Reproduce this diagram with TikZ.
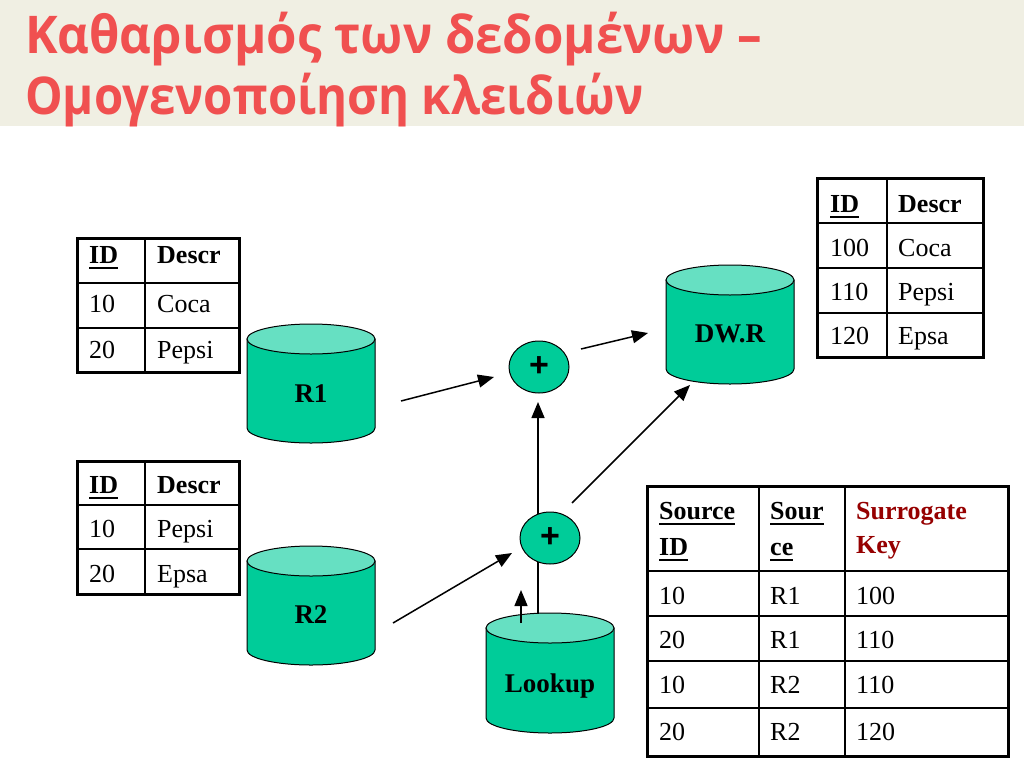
\documentclass[tikz,border=0pt]{standalone}
\usepackage{fontspec}
\setmainfont{Liberation Serif}
\newfontfamily\titlefont{Open Sans}
\newfontfamily\plusfont{Liberation Sans}
\usetikzlibrary{arrows.meta,shapes.geometric}
\definecolor{band}{RGB}{240,239,227}
\definecolor{titlered}{RGB}{240,80,80}
\definecolor{cylbody}{RGB}{0,204,153}
\definecolor{cyltop}{RGB}{102,224,194}
\definecolor{keyred}{RGB}{150,0,0}
\begin{document}
\begin{tikzpicture}[x=1pt,y=1pt,
  cell/.style={anchor=base west,inner sep=0pt,font=\fontsize{26}{30}\selectfont},
  hcell/.style={cell,font=\fontsize{26}{30}\selectfont\bfseries},
  keycell/.style={hcell,text=keyred},
  ulline/.style={line width=2pt},
  outer/.style={line width=3pt},
  inner/.style={line width=1.4pt},
  cylline/.style={draw=black,line width=1pt},
  cyllabel/.style={anchor=base,inner sep=0pt,font=\fontsize{27}{30}\selectfont\bfseries},
  plus/.style={ellipse,draw=black,line width=1pt,fill=cylbody,minimum width=60pt,minimum height=52pt,inner sep=0pt,font=\plusfont\bfseries\fontsize{34}{34}\selectfont},
  conn/.style={line width=1.5pt,-{Triangle[length=16pt,width=13pt]}},
  titletext/.style={anchor=base west,inner sep=0pt,text=titlered,font=\titlefont\bfseries\fontsize{52}{60}\selectfont}
]
\useasboundingbox (0,0) rectangle (1024,-768);
\fill[white] (0,0) rectangle (1024,-768);
\fill[band] (0,0) rectangle (1024,-126);
\node[titletext] (title1) at (25,-54) {\scalebox{0.945}[1]{Καθαρισμός των δεδομένων –}};
\node[titletext] (title2) at (25,-114) {\scalebox{0.91}[1]{Ομογενοποίηση κλειδιών}};

% Table 1
\draw[inner] (145,-238) -- (145,-372) (77,-283) -- (239,-283) (77,-328) -- (239,-328);
\draw[outer] (77,-238) rectangle (239,-372);
\node[hcell] (t1h1) at (89,-263) {ID};
\node[hcell] (t1h2) at (157,-263) {Descr};
\node[cell] (t1a1) at (89,-312) {10};
\node[cell] (t1a2) at (157,-312) {Coca};
\node[cell] (t1b1) at (89,-358) {20};
\node[cell] (t1b2) at (157,-358) {Pepsi};
\draw[ulline] ([yshift=-5pt]t1h1.base west) -- ([yshift=-5pt]t1h1.base east);

% Table 2
\draw[inner] (145,-461) -- (145,-594) (77,-505) -- (239,-505) (77,-549) -- (239,-549);
\draw[outer] (77,-461) rectangle (239,-594);
\node[hcell] (t2h1) at (89,-493) {ID};
\node[hcell] (t2h2) at (157,-493) {Descr};
\node[cell] (t2a1) at (89,-537) {10};
\node[cell] (t2a2) at (157,-537) {Pepsi};
\node[cell] (t2b1) at (89,-582) {20};
\node[cell] (t2b2) at (157,-582) {Epsa};
\draw[ulline] ([yshift=-5pt]t2h1.base west) -- ([yshift=-5pt]t2h1.base east);

% Table 3
\draw[inner] (887,-178) -- (887,-357) (817,-223) -- (983,-223) (817,-268) -- (983,-268) (817,-313) -- (983,-313);
\draw[outer] (817,-178) rectangle (983,-357);
\node[hcell] (t3h1) at (830,-212) {ID};
\node[hcell] (t3h2) at (898,-212) {Descr};
\node[cell] (t3a1) at (830,-256) {100};
\node[cell] (t3a2) at (898,-256) {Coca};
\node[cell] (t3b1) at (830,-300) {110};
\node[cell] (t3b2) at (898,-300) {Pepsi};
\node[cell] (t3c1) at (830,-344) {120};
\node[cell] (t3c2) at (898,-344) {Epsa};
\draw[ulline] ([yshift=-5pt]t3h1.base west) -- ([yshift=-5pt]t3h1.base east);

% Table 4
\draw[inner] (759,-486) -- (759,-756) (845,-486) -- (845,-756)
  (647,-571) -- (1008,-571) (647,-616) -- (1008,-616) (647,-661) -- (1008,-661) (647,-708) -- (1008,-708);
\draw[outer] (647,-486) rectangle (1008,-756);
\node[hcell] (t4h1a) at (659,-519) {Source};
\node[hcell] (t4h1b) at (659,-555) {ID};
\node[hcell] (t4h2a) at (770,-519) {Sour};
\node[hcell] (t4h2b) at (770,-555) {ce};
\node[keycell] (t4h3a) at (856,-519) {Surrogate};
\node[keycell] (t4h3b) at (856,-553) {Key};
\draw[ulline] ([yshift=-5pt]t4h1a.base west) -- ([yshift=-5pt]t4h1a.base east);
\draw[ulline] ([yshift=-5pt]t4h1b.base west) -- ([yshift=-5pt]t4h1b.base east);
\draw[ulline] ([yshift=-5pt]t4h2a.base west) -- ([yshift=-5pt]t4h2a.base east);
\draw[ulline] ([yshift=-5pt]t4h2b.base west) -- ([yshift=-5pt]t4h2b.base east);
\node[cell] (t4a1) at (659,-604) {10};
\node[cell] (t4a2) at (770,-604) {R1};
\node[cell] (t4a3) at (856,-604) {100};
\node[cell] (t4b1) at (659,-648) {20};
\node[cell] (t4b2) at (770,-648) {R1};
\node[cell] (t4b3) at (856,-648) {110};
\node[cell] (t4c1) at (659,-693) {10};
\node[cell] (t4c2) at (770,-693) {R2};
\node[cell] (t4c3) at (856,-693) {110};
\node[cell] (t4d1) at (659,-740) {20};
\node[cell] (t4d2) at (770,-740) {R2};
\node[cell] (t4d3) at (856,-740) {120};

% Cylinders
\path[cylline,fill=cylbody] (247,-339) -- (247,-428) arc[start angle=180,end angle=360,x radius=64,y radius=15] -- (375,-339) -- cycle;
\path[cylline,fill=cyltop] (311,-339) ellipse[x radius=64,y radius=15];
\node[cyllabel] (r1) at (311,-402) {R1};

\path[cylline,fill=cylbody] (247,-561) -- (247,-650) arc[start angle=180,end angle=360,x radius=64,y radius=15] -- (375,-561) -- cycle;
\path[cylline,fill=cyltop] (311,-561) ellipse[x radius=64,y radius=15];
\node[cyllabel] (r2) at (311,-623) {R2};

\path[cylline,fill=cylbody] (666,-280) -- (666,-369) arc[start angle=180,end angle=360,x radius=64,y radius=15] -- (794,-280) -- cycle;
\path[cylline,fill=cyltop] (730,-280) ellipse[x radius=64,y radius=15];
\node[cyllabel] (dwr) at (730,-342) {DW.R};

\path[cylline,fill=cylbody] (486,-628) -- (486,-718) arc[start angle=180,end angle=360,x radius=64,y radius=15] -- (614,-628) -- cycle;
\path[cylline,fill=cyltop] (550,-628) ellipse[x radius=64,y radius=15];
\node[cyllabel] (lookup) at (550,-692) {Lookup};

% Connector end points
\coordinate (r1out) at (401,-401);
\coordinate (p1in) at (494,-377);
\coordinate (p1out) at (581,-349);
\coordinate (dwin) at (648,-333);
\coordinate (lkup) at (538,-614);
\coordinate (p1below) at (538,-402);
\coordinate (lkarrs) at (521,-623);
\coordinate (lkarre) at (521,-590);
\coordinate (r2out) at (393,-623);
\coordinate (p2in) at (512,-553);
\coordinate (p2out) at (572,-503);
\coordinate (dwin2) at (690,-385);

\draw[conn] (lkup) -- (p1below);
\node[plus] (plus1) at (539,-367) {\raisebox{-2pt}{+}};
\node[plus] (plus2) at (550,-538) {\raisebox{-2pt}{+}};

\draw[conn] (r1out) -- (p1in);
\draw[conn] (p1out) -- (dwin);
\draw[conn] (lkarrs) -- (lkarre);
\draw[conn] (r2out) -- (p2in);
\draw[conn] (p2out) -- (dwin2);
\end{tikzpicture}
\end{document}
